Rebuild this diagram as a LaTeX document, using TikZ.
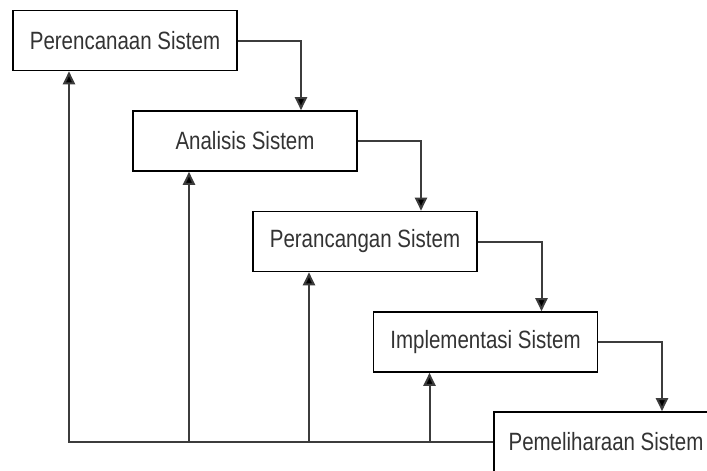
\documentclass[tikz,border=0pt]{standalone}
\usepackage{fontspec}
\newfontfamily\boxfont[FakeStretch=0.82]{Liberation Sans}
\usetikzlibrary{arrows.meta}
\definecolor{txtgray}{HTML}{333333}
\definecolor{linegray}{HTML}{3C3C3C}
\tikzset{
  stage/.style={draw=black,line width=1.6pt,fill=white,minimum width=224pt,
    minimum height=60pt,inner sep=0pt,text=txtgray,font=\boxfont\fontsize{25}{30}\selectfont},
  flow/.style={draw=linegray,line width=2pt,-{Triangle[length=13pt,width=12pt,fill=black]}}
}
\begin{document}
\begin{tikzpicture}[x=1pt,y=-1pt]
  \useasboundingbox (0,0) rectangle (707,471);
  \clip (0,0) rectangle (707,471);
  \fill[white] (0,0) rectangle (707,471);
  % waterfall stages
  \node[stage] (plan) at (125,40.5) {Perencanaan Sistem};
  \node[stage] (anal) at (245,141) {Analisis Sistem};
  \node[stage] (desg) at (365,241.5) {Perancangan Sistem};
  \node[stage] (impl) at (485.5,342) {Implementasi Sistem};
  \node[stage] (main) at (606,442) {Pemeliharaan Sistem};
  % forward steps
  \draw[flow] (plan.east) -| ([xshift=56pt]anal.north);
  \draw[flow] (anal.east) -| ([xshift=56pt]desg.north);
  \draw[flow] (desg.east) -| ([xshift=56pt]impl.north);
  \draw[flow] (impl.east) -| ([xshift=56pt]main.north);
  % feedback line
  \coordinate (j2) at ([xshift=-56pt]anal.south |- main.west);
  \coordinate (j3) at ([xshift=-56pt]desg.south |- main.west);
  \coordinate (j4) at ([xshift=-56pt]impl.south |- main.west);
  \draw[flow] (main.west) -| ([xshift=-56pt]plan.south);
  \draw[flow] (j2) -- ([xshift=-56pt]anal.south);
  \draw[flow] (j3) -- ([xshift=-56pt]desg.south);
  \draw[flow] (j4) -- ([xshift=-56pt]impl.south);
\end{tikzpicture}
\end{document}
